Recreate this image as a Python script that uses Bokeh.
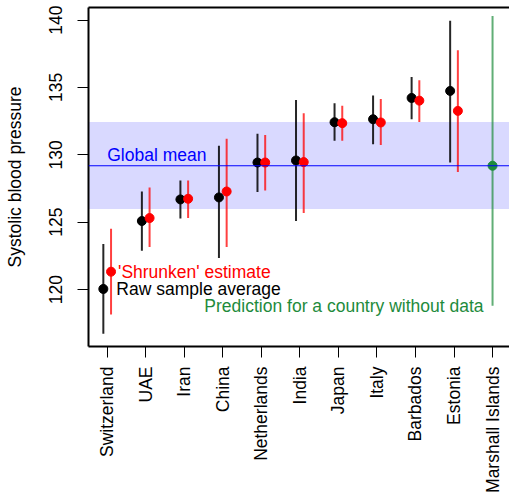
import math
from bokeh.plotting import figure
from bokeh.models import Range1d, FixedTicker, LinearAxis, BoxAnnotation, Span, ColumnDataSource
from bokeh.core.properties import value
from bokeh.embed import file_html
from bokeh.resources import INLINE

countries = ["Switzerland", "UAE", "Iran", "China", "Netherlands", "India",
             "Japan", "Italy", "Barbados", "Estonia", "Marshall Islands"]
raw_mean = [120.05, 125.09, 126.69, 126.84, 129.43, 129.58, 132.42, 132.64, 134.22, 134.74]
raw_lo = [116.72, 122.89, 125.28, 122.35, 127.24, 125.09, 131.04, 130.79, 132.64, 129.43]
raw_hi = [123.38, 127.28, 128.10, 130.67, 131.56, 134.07, 133.83, 134.40, 135.78, 139.95]
shr_mean = [121.33, 125.31, 126.74, 127.28, 129.43, 129.46, 132.35, 132.40, 134.02, 133.26]
shr_lo = [118.15, 123.16, 125.31, 123.16, 127.36, 125.68, 131.04, 130.72, 132.44, 128.72]
shr_hi = [124.52, 127.58, 128.10, 131.19, 131.48, 133.09, 133.65, 134.15, 135.53, 137.76]
global_mean = 129.19
global_lo = 125.98
global_hi = 132.44
pred_mean = 129.19
pred_lo = 118.81
pred_hi = 140.30
y_ticks = [120, 125, 130, 135, 140]

FONT = "Liberation Sans"
FS = "17.5px"
offset = 0.1

idx = list(range(1, len(countries) + 1))
n = len(raw_mean)
raw_src = ColumnDataSource(dict(x=[i - offset for i in idx[:n]], m=raw_mean, lo=raw_lo, hi=raw_hi))
shr_src = ColumnDataSource(dict(x=[i + offset for i in idx[:n]], m=shr_mean, lo=shr_lo, hi=shr_hi))
pred_src = ColumnDataSource(dict(x=[idx[-1]], m=[pred_mean], lo=[pred_lo], hi=[pred_hi]))

p = figure(width=509, height=495, x_range=Range1d(0.515, 11.44), y_range=Range1d(115.78, 140.93),
           output_backend="svg", toolbar_location=None,
           min_border_left=88, min_border_right=0, min_border_top=7, min_border_bottom=148)
p.grid.visible = False
p.outline_line_color = None
p.background_fill_color = "white"

p.add_layout(BoxAnnotation(bottom=global_lo, top=global_hi, fill_color="blue", fill_alpha=0.15,
                           line_color=None, level="underlay"))
p.add_layout(Span(location=global_mean, dimension="width", line_color="blue", line_width=1.2))

p.segment(x0="x", y0="lo", x1="x", y1="hi", source=raw_src, line_color="black", line_width=2, line_alpha=0.85)
p.scatter(x="x", y="m", source=raw_src, size=9, color="black")
p.segment(x0="x", y0="lo", x1="x", y1="hi", source=shr_src, line_color="red", line_width=2, line_alpha=0.75)
p.scatter(x="x", y="m", source=shr_src, size=9, color="red")
p.segment(x0="x", y0="lo", x1="x", y1="hi", source=pred_src, line_color="#1e8b3c", line_width=2, line_alpha=0.7)
p.scatter(x="x", y="m", source=pred_src, size=9, color="#1e8b3c")

p.text(x=[idx[0]], y=[global_mean], text=["Global mean"], text_color="blue",
       text_font=value(FONT), text_font_size=FS, text_align="left", text_baseline="bottom", y_offset=-1)
p.text(x=[idx[0] + offset], y=[shr_mean[0]], text=["'Shrunken' estimate"], text_color="red",
       text_font=value(FONT), text_font_size=FS, text_align="left", text_baseline="middle", x_offset=7)
p.text(x=[idx[0] - offset], y=[raw_mean[0]], text=["Raw sample average"], text_color="black",
       text_font=value(FONT), text_font_size=FS, text_align="left", text_baseline="middle", x_offset=13)
p.text(x=[idx[-1]], y=[pred_lo], text=["Prediction for a country without data"], text_color="#1e8b3c",
       text_font=value(FONT), text_font_size=FS, text_align="right", text_baseline="middle", x_offset=-9)

xa = p.xaxis[0]
xa.ticker = FixedTicker(ticks=idx)
xa.major_label_overrides = {i: c for i, c in zip(idx, countries)}
xa.major_label_orientation = math.pi / 2
xa.major_label_text_font = FONT
xa.major_label_text_font_size = FS
xa.major_label_text_color = "black"
xa.major_label_standoff = 9
xa.major_tick_out = 11
xa.major_tick_in = 0
xa.minor_tick_line_color = None
xa.axis_line_width = 2
xa.major_tick_line_width = 1

ya = p.yaxis[0]
ya.ticker = FixedTicker(ticks=y_ticks)
ya.major_label_orientation = "parallel"
ya.major_label_text_font = FONT
ya.major_label_text_font_size = FS
ya.major_label_text_color = "black"
ya.major_label_standoff = 15
ya.major_tick_out = 11
ya.major_tick_in = 0
ya.minor_tick_line_color = None
ya.axis_line_width = 2
ya.axis_label = "Systolic blood pressure"
ya.axis_label_text_font = FONT
ya.axis_label_text_font_size = FS
ya.axis_label_text_font_style = "normal"
ya.axis_label_text_color = "black"
ya.axis_label_standoff = 22

top = LinearAxis(ticker=FixedTicker(ticks=[]), major_label_text_font_size="0px",
                 major_tick_out=0, major_tick_in=0, minor_tick_line_color=None,
                 major_label_standoff=0, axis_line_width=2)
p.add_layout(top, "above")

open("out.html", "w").write(file_html(p, INLINE))
